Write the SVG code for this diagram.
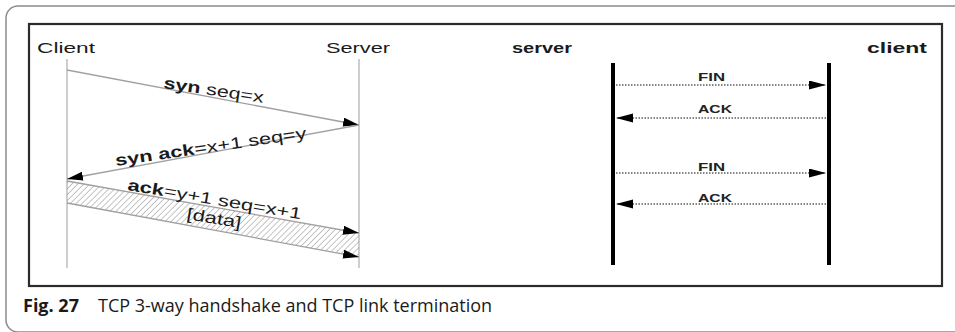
<svg xmlns="http://www.w3.org/2000/svg" width="955" height="332" viewBox="0 0 955 332">
  <style>
    .frame { fill: none; stroke: #8c8c8c; stroke-width: 1.5; }
    .box { fill: #fff; stroke: #2b2b2b; stroke-width: 2.2; }
    .life { stroke: #b4b4b4; stroke-width: 1.3; }
    .msg { stroke: #a0a0a0; stroke-width: 1.3; fill: none; }
    .bar { stroke: #000; stroke-width: 4; }
    .dot { stroke: #5e5e5e; stroke-width: 1.6; stroke-dasharray: 1.5 1.5; fill: none; }
    .head { fill: #000; }
    .lbl { font-family: "Liberation Sans", Arial, sans-serif; fill: #1a1a1a; }
    .cap { font-family: "Open Sans", "Noto Sans", sans-serif; fill: #1a1a1a; font-size: 18px; }
    .small { font-family: "Liberation Sans", Arial, sans-serif; font-weight: bold; font-size: 10.5px; fill: #222; }
  </style>
  <defs>
    <pattern id="hatch" width="4.2" height="4.2" patternUnits="userSpaceOnUse" patternTransform="rotate(45)">
      <line x1="0" y1="0" x2="0" y2="4.2" stroke="#8a8a8a" stroke-width="1"/>
    </pattern>
    <marker id="arrow" markerWidth="17" markerHeight="10" refX="16" refY="4.5" orient="auto" markerUnits="userSpaceOnUse">
      <path d="M0,0 L16,4.5 L0,9 Z" class="head"/>
    </marker>
    <marker id="arrowR" markerWidth="18" markerHeight="10" refX="17" refY="4.5" orient="auto" markerUnits="userSpaceOnUse">
      <path d="M0,0 L17,4.5 L0,9 Z" class="head"/>
    </marker>
  </defs>

  <!-- page frame and figure box -->
  <rect class="frame" x="6" y="6" width="1000" height="326" rx="12"/>
  <rect class="box" x="29" y="24" width="913" height="262"/>

  <!-- three-way handshake: participants -->
  <g id="client-left">
    <text class="lbl" x="37" y="53" font-size="15" textLength="58" lengthAdjust="spacingAndGlyphs">Client</text>
    <line class="life" x1="67" y1="59" x2="67" y2="268"/>
  </g>
  <g id="server-left">
    <text class="lbl" x="326" y="53" font-size="15" textLength="64" lengthAdjust="spacingAndGlyphs">Server</text>
    <line class="life" x1="359" y1="59" x2="359" y2="268"/>
  </g>

  <!-- data segment band -->
  <g id="data-band">
    <polygon points="67,181 359,233 359,257 67,203" fill="url(#hatch)"/>
  </g>

  <!-- handshake messages -->
  <g id="connectors-left">
    <line class="msg" x1="67" y1="70" x2="359" y2="125" marker-end="url(#arrow)"/>
    <line class="msg" x1="359" y1="125" x2="67" y2="179" marker-end="url(#arrow)"/>
    <line class="msg" x1="67" y1="181" x2="359" y2="233" marker-end="url(#arrow)"/>
    <line class="msg" x1="67" y1="203" x2="359" y2="257" marker-end="url(#arrow)"/>
  </g>

  <g id="labels-left">
    <text class="lbl" font-size="16" transform="translate(163,88) rotate(8.5)" textLength="101" lengthAdjust="spacingAndGlyphs"><tspan font-weight="bold">syn</tspan> seq=x</text>
    <text class="lbl" font-size="16" transform="translate(116,166) rotate(-8.3)" textLength="193" lengthAdjust="spacingAndGlyphs"><tspan font-weight="bold">syn ack</tspan>=x+1 seq=y</text>
    <text class="lbl" font-size="16" transform="translate(127,190) rotate(9.6)" textLength="176" lengthAdjust="spacingAndGlyphs"><tspan font-weight="bold">ack</tspan>=y+1 seq=x+1</text>
    <text class="lbl" font-size="16" transform="translate(186,219) rotate(9.6)" textLength="55" lengthAdjust="spacingAndGlyphs">[data]</text>
  </g>

  <!-- connection termination: participants -->
  <g id="server-right">
    <text class="lbl" x="512" y="53" font-size="15" font-weight="bold" textLength="60" lengthAdjust="spacingAndGlyphs">server</text>
    <line class="bar" x1="613" y1="63" x2="613" y2="265"/>
  </g>
  <g id="client-right">
    <text class="lbl" x="867" y="53" font-size="15" font-weight="bold" textLength="60" lengthAdjust="spacingAndGlyphs">client</text>
    <line class="bar" x1="829" y1="63" x2="829" y2="265"/>
  </g>

  <!-- termination messages -->
  <g id="connectors-right">
    <line class="dot" x1="616" y1="85" x2="826" y2="85" marker-end="url(#arrowR)"/>
    <line class="dot" x1="826" y1="118" x2="616" y2="118" marker-end="url(#arrowR)"/>
    <line class="dot" x1="616" y1="173" x2="826" y2="173" marker-end="url(#arrowR)"/>
    <line class="dot" x1="826" y1="204" x2="616" y2="204" marker-end="url(#arrowR)"/>
  </g>
  <g id="labels-right">
    <text class="small" x="698" y="81" textLength="27" lengthAdjust="spacingAndGlyphs">FIN</text>
    <text class="small" x="698" y="113" textLength="34" lengthAdjust="spacingAndGlyphs">ACK</text>
    <text class="small" x="698" y="171" textLength="27" lengthAdjust="spacingAndGlyphs">FIN</text>
    <text class="small" x="698" y="202" textLength="34" lengthAdjust="spacingAndGlyphs">ACK</text>
  </g>

  <!-- caption -->
  <text class="cap" x="23" y="312"><tspan font-weight="bold">Fig. 27</tspan><tspan x="98">TCP 3-way handshake and TCP link termination</tspan></text>
</svg>
